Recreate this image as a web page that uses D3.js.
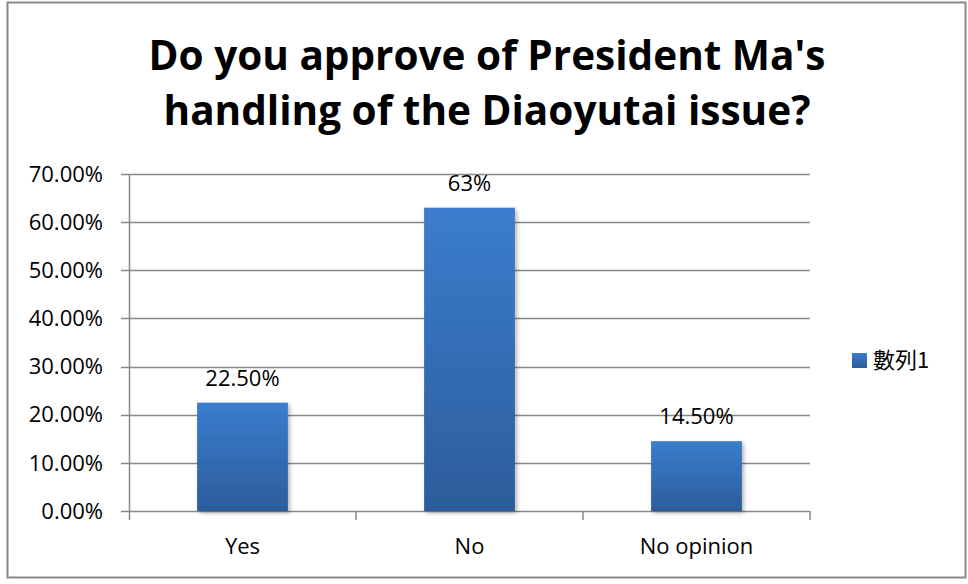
<!DOCTYPE html>
<html>
<head>
<meta charset="utf-8">
<script src="https://cdn.jsdelivr.net/npm/d3@7"></script>
<style>
  body { margin: 0; background: #fff; }
  text { font-family: "Open Sans", "Noto Sans", sans-serif; }
</style>
</head>
<body>
<div id="chart-area"></div>
<script>
// chart data
var categories = ["Yes", "No", "No opinion"];
var values = [0.225, 0.63, 0.145];
var valueLabels = ["22.50%", "63%", "14.50%"];
var yTicks = [0, 0.1, 0.2, 0.3, 0.4, 0.5, 0.6, 0.7];
var titleLines = ["Do you approve of President Ma's", "handling of the Diaoyutai issue?"];
var seriesName = "數列1";

var W = 968, H = 584;
var svg = d3.select("#chart-area").append("svg").attr("width", W).attr("height", H);

var defs = svg.append("defs");
var grad = defs.append("linearGradient").attr("id", "barGrad")
  .attr("x1", 0).attr("y1", 0).attr("x2", 0).attr("y2", 1);
grad.append("stop").attr("offset", "0%").attr("stop-color", "#3b7dce");
grad.append("stop").attr("offset", "100%").attr("stop-color", "#2c5c9b");
var shadow = defs.append("filter").attr("id", "shadow")
  .attr("x", "-10%").attr("y", "-10%").attr("width", "130%").attr("height", "130%");
shadow.append("feDropShadow").attr("dx", 2).attr("dy", 2).attr("stdDeviation", 2)
  .attr("flood-color", "#000").attr("flood-opacity", 0.3);

// outer frame
svg.append("rect").attr("x", 7.5).attr("y", 2.5).attr("width", 958).attr("height", 575)
  .attr("fill", "#fff").attr("stroke", "#888").attr("stroke-width", 2);

// title
svg.selectAll(".title").data(titleLines).enter().append("text")
  .attr("class", "title")
  .attr("x", 487)
  .attr("y", (d, i) => 70 + i * 55)
  .attr("text-anchor", "middle")
  .attr("font-size", 40.5)
  .attr("font-weight", "bold")
  .attr("fill", "#000")
  .text(d => d);

var x = d3.scaleBand().domain(categories).range([129, 810]).paddingInner(0).paddingOuter(0);
var y = d3.scaleLinear().domain([0, 0.7]).range([511, 174]);

// gridlines
svg.selectAll(".grid").data(yTicks).enter().append("line")
  .attr("x1", 121).attr("x2", 810)
  .attr("y1", d => Math.round(y(d)) + 0.5).attr("y2", d => Math.round(y(d)) + 0.5)
  .attr("stroke", "#888").attr("stroke-width", 1.5);

// y axis line
svg.append("line").attr("x1", 129.5).attr("x2", 129.5).attr("y1", y(0.7)).attr("y2", 520)
  .attr("stroke", "#888").attr("stroke-width", 1.5);

// x axis ticks at category boundaries
var bounds = categories.map(c => x(c)).concat([x.range()[1]]);
svg.selectAll(".xtick").data(bounds.slice(1)).enter().append("line")
  .attr("x1", d => d).attr("x2", d => d).attr("y1", 511).attr("y2", 520)
  .attr("stroke", "#888").attr("stroke-width", 1.5);

// y tick labels
svg.selectAll(".ylab").data(yTicks).enter().append("text")
  .attr("x", 103).attr("y", d => y(d))
  .attr("dy", "0.35em")
  .attr("text-anchor", "end")
  .attr("font-size", 22)
  .attr("fill", "#000")
  .text(d => d3.format(".2%")(d));

// bars
var bw = x.bandwidth() * 0.4;
svg.selectAll(".bar").data(values).enter().append("rect")
  .attr("x", (d, i) => x(categories[i]) + (x.bandwidth() - bw) / 2)
  .attr("y", d => y(d))
  .attr("width", bw)
  .attr("height", d => y(0) - y(d))
  .attr("fill", "url(#barGrad)")
  .attr("filter", "url(#shadow)");

// value labels
svg.selectAll(".vlab").data(values).enter().append("text")
  .attr("x", (d, i) => x(categories[i]) + x.bandwidth() / 2)
  .attr("y", d => y(d) - 17)
  .attr("text-anchor", "middle")
  .attr("font-size", 22)
  .attr("fill", "#000")
  .text((d, i) => valueLabels[i]);

// category labels
svg.selectAll(".xlab").data(categories).enter().append("text")
  .attr("x", d => x(d) + x.bandwidth() / 2)
  .attr("y", 554)
  .attr("text-anchor", "middle")
  .attr("font-size", 22)
  .attr("fill", "#000")
  .text(d => d);

// legend
svg.append("rect").attr("x", 852).attr("y", 353).attr("width", 15).attr("height", 15)
  .attr("fill", "url(#barGrad)");
svg.append("text").attr("x", 873).attr("y", 360).attr("dy", "0.35em")
  .attr("font-size", 22)
  .style("font-family", "'Noto Sans CJK TC', 'Noto Sans', sans-serif")
  .attr("fill", "#000")
  .text(seriesName);
</script>
</body>
</html>
